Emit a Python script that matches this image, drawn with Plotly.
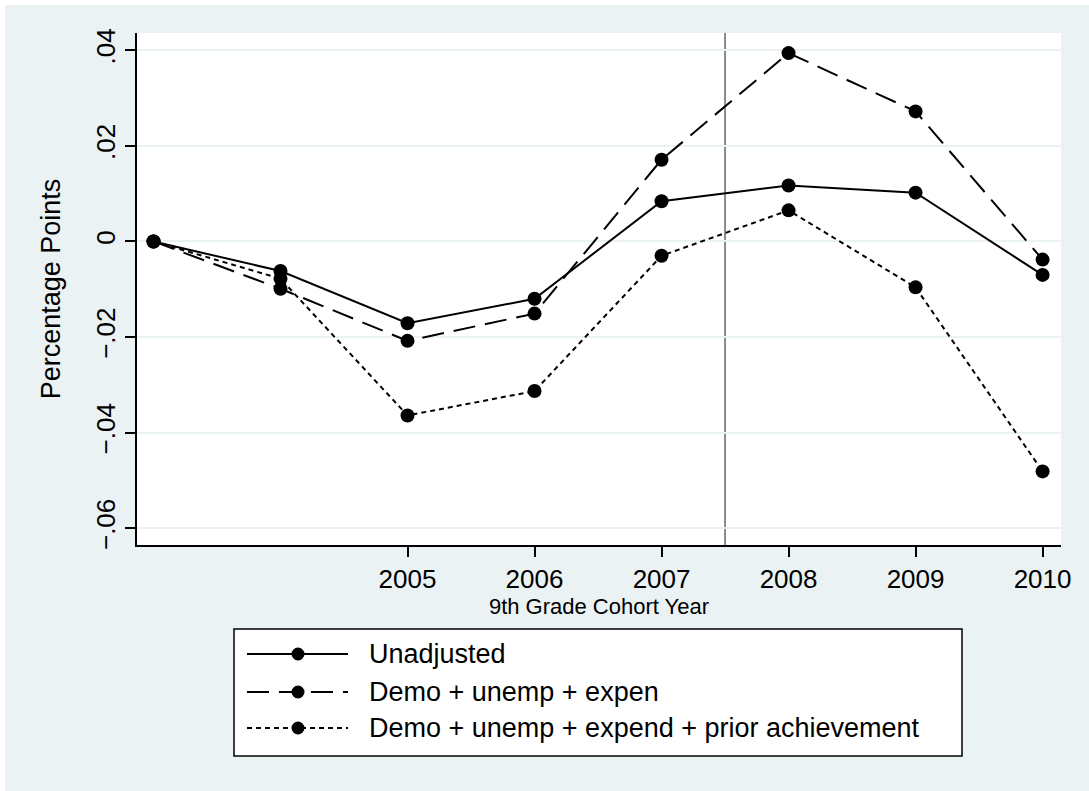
import plotly.graph_objects as go

# ---------------- data ----------------
years = [2003, 2004, 2005, 2006, 2007, 2008, 2009, 2010]
unadjusted = [0.0, -0.0062, -0.0171, -0.0120, 0.0084, 0.0117, 0.0102, -0.0070]
demo_unemp_expen = [0.0, -0.0099, -0.0208, -0.0151, 0.0171, 0.0394, 0.0272, -0.0038]
demo_unemp_expend_prior = [0.0, -0.0078, -0.0364, -0.0313, -0.0030, 0.0065, -0.0096, -0.0481]

series_names = [
    "Unadjusted",
    "Demo + unemp + expen",
    "Demo + unemp + expend + prior achievement",
]
x_tick_years = [2005, 2006, 2007, 2008, 2009, 2010]
y_tick_values = [0.04, 0.02, 0.0, -0.02, -0.04, -0.06]
y_tick_labels = [".04", ".02", "0", "\u2212.02", "\u2212.04", "\u2212.06"]
policy_cutoff = 2007.5
x_title = "9th Grade Cohort Year"
y_title = "Percentage Points"

# ---------------- styling ----------------
BG = "#EAF2F3"
FONT = "Liberation Sans, Arial, Helvetica, sans-serif"
W, H = 1089, 791
L, R, T, B = 137, 1061, 33, 545          # plot-area edges in pixels
PW, PH = R - L, B - T

dashes = ["solid", "22px,10px", "5px,4px"]
series_values = [unadjusted, demo_unemp_expen, demo_unemp_expend_prior]

fig = go.Figure()
for name, vals, dash in zip(series_names, series_values, dashes):
    fig.add_trace(go.Scatter(
        x=years, y=vals, name=name, mode="lines+markers",
        line=dict(color="black", width=2, dash=dash),
        marker=dict(color="black", size=14, symbol="circle"),
        cliponaxis=False,
    ))

fig.add_vline(x=policy_cutoff, line_color="#8A8A8A", line_width=2, layer="below")


def px_x(p):
    return (p - L) / PW


def px_y(p):
    return (B - p) / PH


shapes = []
# white page edge strips (top / left)
shapes.append(dict(type="rect", xref="paper", yref="paper", layer="below",
                   x0=px_x(0), x1=px_x(W), y0=px_y(0), y1=px_y(5),
                   fillcolor="white", line=dict(width=0)))
shapes.append(dict(type="rect", xref="paper", yref="paper", layer="below",
                   x0=px_x(0), x1=px_x(5), y0=px_y(0), y1=px_y(H),
                   fillcolor="white", line=dict(width=0)))

# custom legend (Stata style)
LEG_X0, LEG_X1, LEG_Y0, LEG_Y1 = 234, 962, 629, 756
shapes.append(dict(type="rect", xref="paper", yref="paper", layer="above",
                   x0=px_x(LEG_X0), x1=px_x(LEG_X1), y0=px_y(LEG_Y1), y1=px_y(LEG_Y0),
                   fillcolor="white", line=dict(color="black", width=1.5)))
row_y = [654, 692, 728]
SAMPLE_X0, SAMPLE_X1, SAMPLE_MID = 247, 348, 298
MR = 6.5
annotations = []
for name, dash, ry in zip(series_names, dashes, row_y):
    shapes.append(dict(type="line", xref="paper", yref="paper", layer="above",
                       x0=px_x(SAMPLE_X0), x1=px_x(SAMPLE_X1), y0=px_y(ry), y1=px_y(ry),
                       line=dict(color="black", width=2, dash=dash)))
    shapes.append(dict(type="circle", xref="paper", yref="paper", layer="above",
                       x0=px_x(SAMPLE_MID - MR), x1=px_x(SAMPLE_MID + MR),
                       y0=px_y(ry + MR), y1=px_y(ry - MR),
                       fillcolor="black", line=dict(color="black", width=0)))
    annotations.append(dict(xref="paper", yref="paper", x=px_x(367), y=px_y(ry),
                            xanchor="left", yanchor="middle", showarrow=False,
                            text=name, font=dict(family=FONT, size=27, color="black")))

fig.update_layout(
    width=W, height=H,
    margin=dict(l=L, r=W - R, t=T, b=H - B, pad=0),
    paper_bgcolor=BG, plot_bgcolor="white",
    showlegend=False,
    font=dict(family=FONT, color="black"),
    shapes=list(fig.layout.shapes) + shapes,
    annotations=annotations,
)

fig.update_xaxes(
    range=[2002.87, 2010.145], tickvals=x_tick_years,
    ticktext=[str(y) for y in x_tick_years],
    showline=True, linecolor="black", linewidth=1.5,
    ticks="outside", ticklen=10, tickwidth=1.5, tickcolor="black",
    tickfont=dict(size=26), showgrid=False, zeroline=False,
    title=dict(text=x_title, font=dict(size=22), standoff=0),
    automargin=False,
)
fig.update_yaxes(
    range=[-0.0635, 0.0436], tickvals=y_tick_values, ticktext=y_tick_labels,
    tickangle=-90,
    showline=True, linecolor="black", linewidth=1.5,
    ticks="outside", ticklen=10, tickwidth=1.5, tickcolor="black",
    tickfont=dict(size=26), showgrid=True, gridcolor=BG, gridwidth=2,
    zeroline=False,
    title=dict(text=y_title, font=dict(size=27), standoff=22),
    automargin=False,
)

fig.write_html("out.html", config={"displayModeBar": False},
               post_script="document.body.style.margin='0';document.body.style.overflow='hidden';")
